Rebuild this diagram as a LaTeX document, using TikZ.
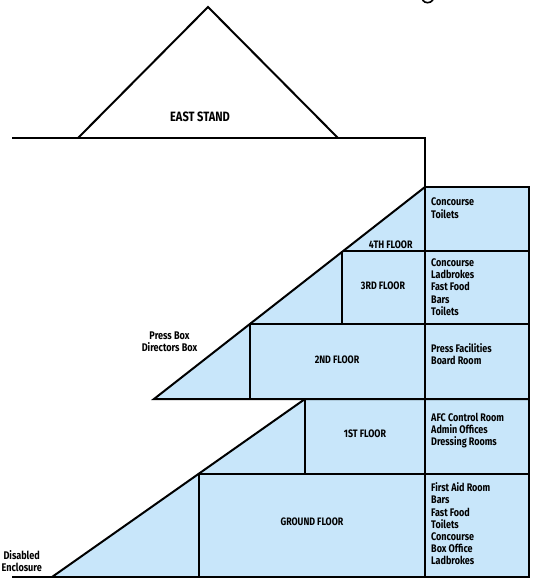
\documentclass[tikz,border=0pt]{standalone}
\usepackage{xcolor}
\usepackage{fontspec}
\setmainfont{Fira Sans}[FakeStretch=0.82]
\usepackage{tikz}
\usetikzlibrary{calc}
\definecolor{floorblue}{HTML}{C8E6FA}
\tikzset{
    wall/.style={draw=black, line width=2pt, line join=miter},
    thinwall/.style={draw=black, line width=1.8pt},
    floorlabel/.style={font=\bfseries\fontsize{10.8}{12}\selectfont, inner sep=0pt},
    standlabel/.style={font=\bfseries\fontsize{13.5}{15}\selectfont, inner sep=0pt},
    roomlist/.style={font=\bfseries\fontsize{11}{12.2}\selectfont, align=left, anchor=west, inner sep=0pt},
    sidelabel/.style={font=\bfseries\fontsize{11.1}{12}\selectfont, align=center, inner sep=0pt},
}
\begin{document}
\begin{tikzpicture}[x=1pt, y=-1pt]
        \useasboundingbox (0,0) rectangle (540,584);

        \coordinate (apex) at (208,7);
        \coordinate (standl) at (78,138);
        \coordinate (standr) at (338,138);
        \coordinate (roofl) at (12,138);
        \coordinate (corner) at (425,138);
        \coordinate (top) at (425,187);
        \coordinate (topr) at (529,187);
        \coordinate (upperl) at (154,399);
        \coordinate (lowerl) at (52,577);
        \coordinate (grndl) at (12,577);
        \coordinate (midr) at (529,399);
        \coordinate (botr) at (529,577);
        \coordinate (step1) at (305,399);

        \fill[floorblue] (upperl) -- (top) -- (topr) -- (midr) -- cycle;
        \fill[floorblue] (lowerl) -- (step1) -- (midr) -- (botr) -- cycle;

        \draw[wall] (standl) -- (apex) -- (standr);
        \draw[wall] (roofl) -- (corner) -- (top);
        \draw[wall] (top) -- (topr) -- (botr) -- (grndl);
        \draw[wall] (top) -- (upperl) -- (midr);
        \draw[wall] (lowerl) -- (step1);
        \draw[thinwall] (top) -- (425,577);
        \draw[thinwall] (343.5,251.3) -- (529,251.3);
        \draw[thinwall] (250,324) -- (529,324);
        \draw[thinwall] (199,473.8) -- (529,473.8);
        \draw[thinwall] (341.7,251.3) -- (341.7,324);
        \draw[thinwall] (250.3,324) -- (250.3,399);
        \draw[thinwall] (305,399) -- (305,474);
        \draw[thinwall] (198.8,473.8) -- (198.8,577);
        \draw[line width=1.6pt] (422.5,0) .. controls (425,3.6) and (430,3.6) .. (433,0);

        \node[standlabel] (east) at (200,116.7) {EAST STAND};
        \node[floorlabel] (f4) at (390.7,244.3) {4TH FLOOR};
        \node[floorlabel] (f3) at (383,286) {3RD FLOOR};
        \node[floorlabel] (f2) at (337,360) {2ND FLOOR};
        \node[floorlabel] (f1) at (365,434) {1ST FLOOR};
        \node[floorlabel] (f0) at (312,522) {GROUND FLOOR};

        \node[roomlist] (r4) at (431,208.2) {Concourse\\Toilets};
        \node[roomlist] (r3) at (431,287) {Concourse\\Ladbrokes\\Fast Food\\Bars\\Toilets};
        \node[roomlist] (r2) at (431,354.2) {Press Facilities\\Board Room};
        \node[roomlist] (r1) at (431,430.5) {AFC Control Room\\Admin Offices\\Dressing Rooms};
        \node[roomlist] (r0) at (431,524) {First Aid Room\\Bars\\Fast Food\\Toilets\\Concourse\\Box Office\\Ladbrokes};

        \node[sidelabel] (press) at (169.5,341.5) {Press Box\\Directors Box};
        \node[sidelabel] (disabled) at (21.7,561.5) {Disabled\\Enclosure};
    \end{tikzpicture}
\end{document}
